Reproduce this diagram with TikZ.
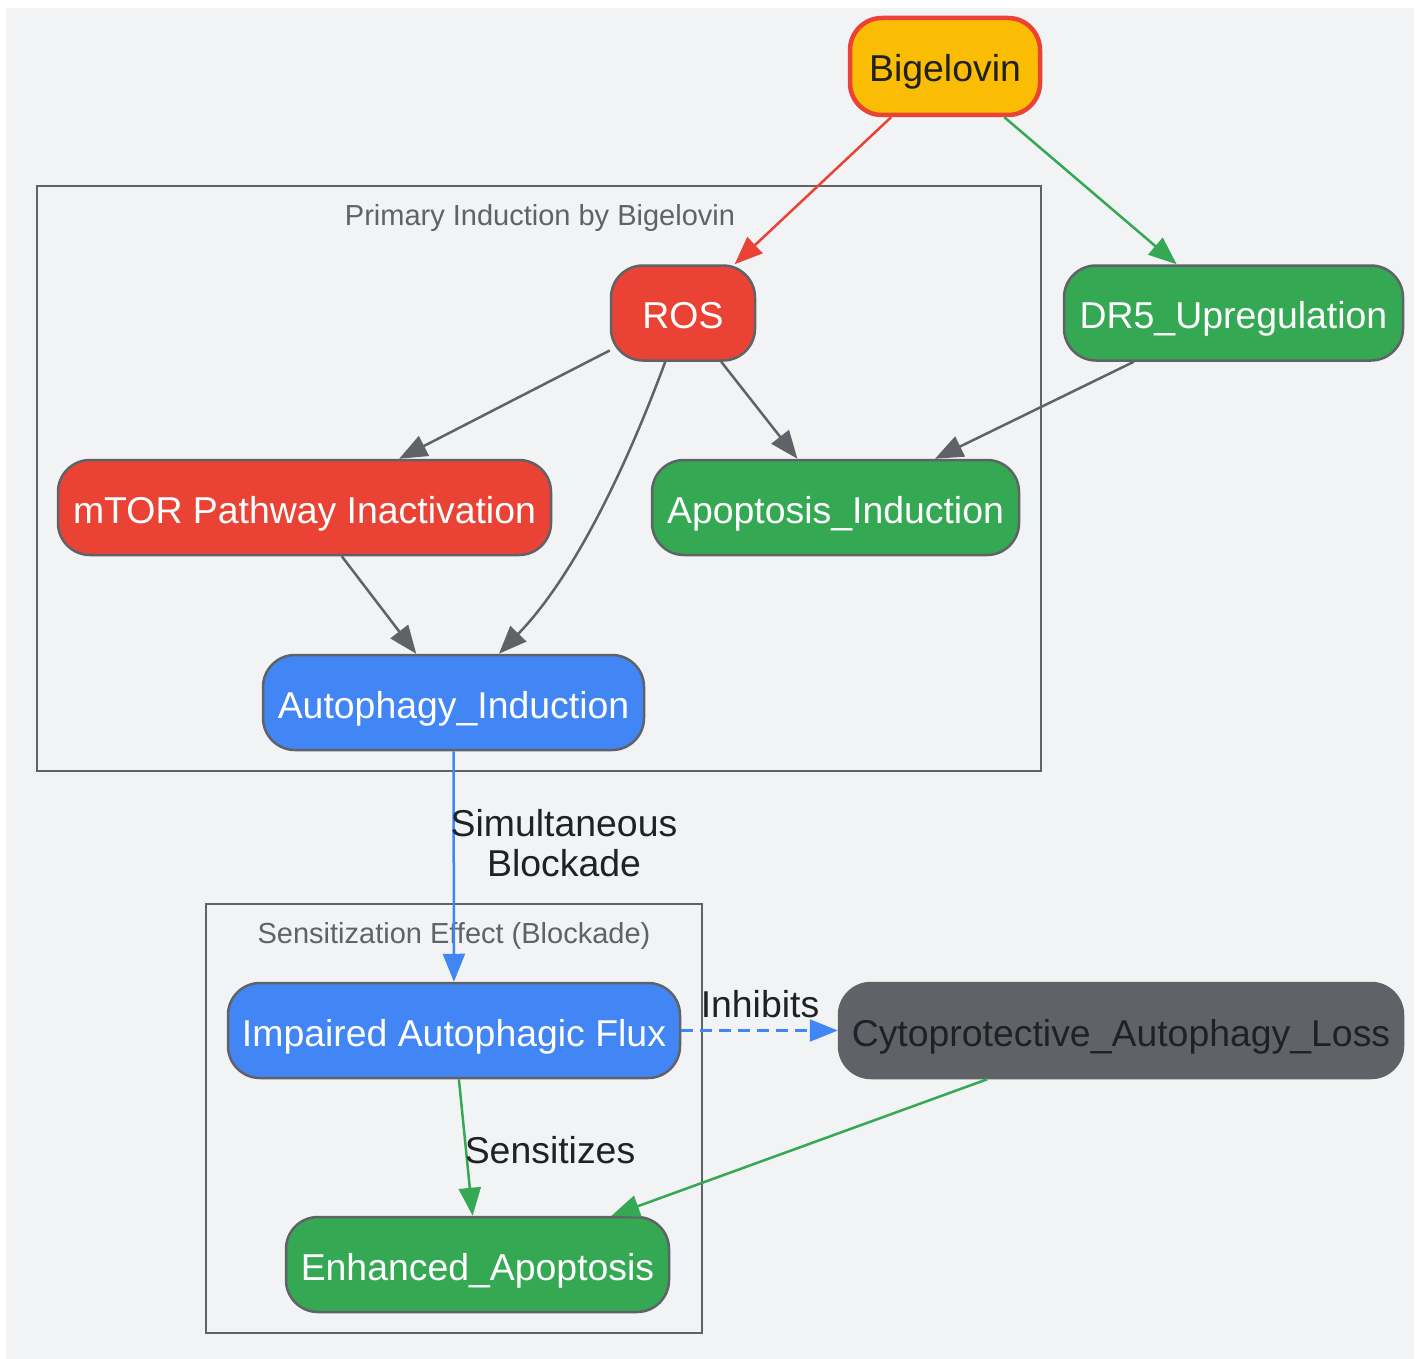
\documentclass[tikz,border=0pt]{standalone}
\usepackage{fontspec}
\setmainfont{Liberation Sans}
\usetikzlibrary{arrows.meta}
\definecolor{bgc}{HTML}{F1F3F4}
\definecolor{gred}{HTML}{EA4335}
\definecolor{ggreen}{HTML}{34A853}
\definecolor{gblue}{HTML}{4285F4}
\definecolor{gyellow}{HTML}{FBBC04}
\definecolor{ggray}{HTML}{5F6368}
\definecolor{gdark}{HTML}{202124}
\tikzset{
  box/.style={draw=ggray, line width=2.5pt, rounded corners=32pt, minimum height=95pt,
    inner sep=0pt, text=white, font=\fontsize{37.4}{40}\selectfont, text height=31pt, text depth=0pt},
  cluster/.style={draw=ggray, line width=2.5pt},
  clabel/.style={text=ggray, font=\fontsize{29}{32}\selectfont, inner sep=0pt, text height=21pt, text depth=0pt},
  elabel/.style={text=gdark, font=\fontsize{37.4}{40}\selectfont, inner sep=0pt, align=center},
  conn/.style={line width=2.5pt, -{Triangle[length=28pt,width=22pt]}},
}
\begin{document}
\begin{tikzpicture}[x=1pt,y=-1pt]
\useasboundingbox (0,0) rectangle (1419,1359);
\fill[bgc] (6,8) rectangle (1414,1359);
% clusters
\draw[cluster] (37,186) rectangle (1041,771);
\node[clabel] (c1lab) at (540,215) {Primary Induction by Bigelovin};
\draw[cluster] (206,904) rectangle (702,1333);
\node[clabel] (c2lab) at (454,933) {Sensitization Effect (Blockade)};
% nodes
\node[box, fill=gyellow, draw=gred, line width=4.5pt, text=gdark, minimum width=190pt, minimum height=97pt] (big) at (945,66.5) {Bigelovin};
\node[box, fill=gred, minimum width=144pt] (ros) at (683,313) {ROS};
\node[box, fill=ggreen, minimum width=339pt] (dr5) at (1233.5,313) {DR5\_Upregulation};
\node[box, fill=gred, minimum width=493pt] (mtor) at (304.5,507.5) {mTOR Pathway Inactivation};
\node[box, fill=ggreen, minimum width=367pt] (apo) at (835.5,507.5) {Apoptosis\_Induction};
\node[box, fill=gblue, minimum width=381pt] (auto) at (453.5,702.5) {Autophagy\_Induction};
\node[box, fill=gblue, minimum width=452pt] (imp) at (454,1030.5) {Impaired Autophagic Flux};
\node[box, fill=ggray, draw=ggray, text=gdark, minimum width=564pt] (cyto) at (1121,1030.5) {Cytoprotective\_Autophagy\_Loss};
\node[box, fill=ggreen, minimum width=383pt] (enh) at (477.5,1264.5) {Enhanced\_Apoptosis};
% edges
\draw[conn, gred] (big) -- (ros);
\draw[conn, ggreen] (big) -- (dr5);
\draw[conn, ggray] (ros) -- (mtor);
\draw[conn, ggray] (ros.250) .. controls (640,430) and (585,565) .. (auto.47);
\draw[conn, ggray] (ros) -- (apo);
\draw[conn, ggray] (dr5) -- (apo);
\draw[conn, ggray] (mtor) -- (auto);
\draw[conn, gblue] (auto) -- (imp);
\node[elabel] (l1) at (564,843) {Simultaneous\\Blockade};
\draw[conn, gblue, dash pattern=on 12pt off 7pt] (imp) -- (cyto);
\node[elabel] (l2) at (760,1004) {Inhibits};
\draw[conn, ggreen] (imp) -- (enh);
\node[elabel] (l3) at (550,1150) {Sensitizes};
\draw[conn, ggreen] (cyto) -- (enh);
\end{tikzpicture}
\end{document}
